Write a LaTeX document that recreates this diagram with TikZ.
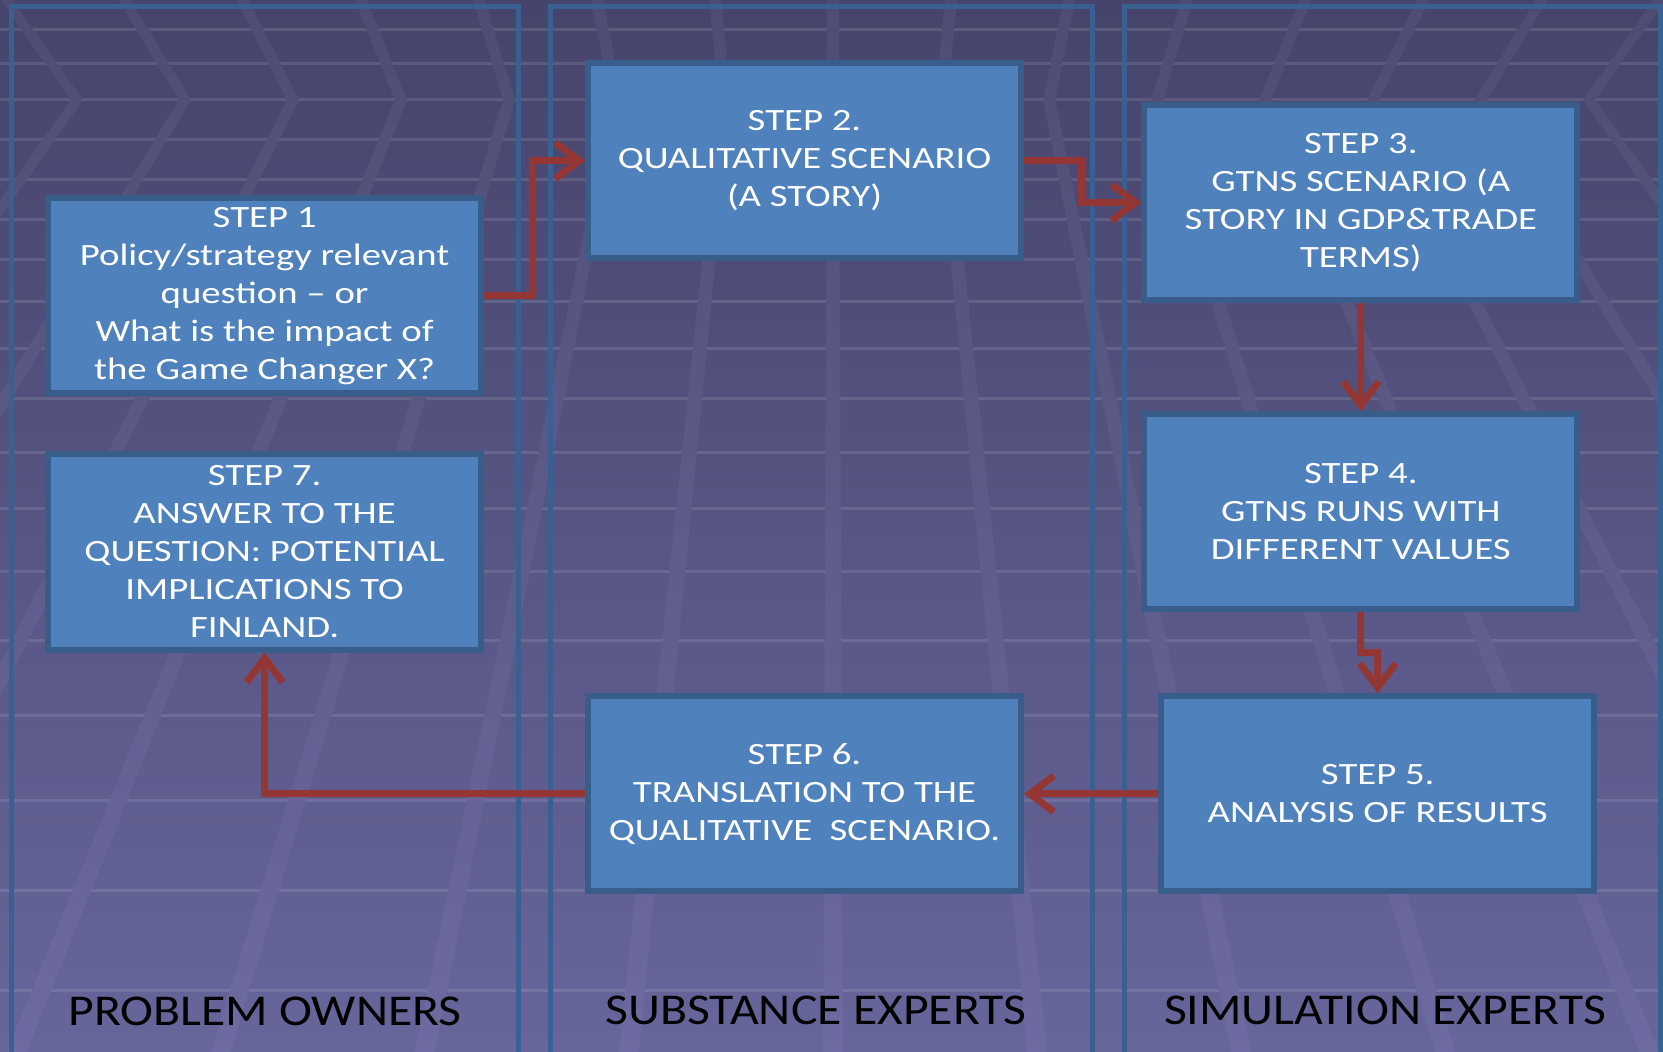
\documentclass[tikz,border=0pt]{standalone}
\usepackage{fontspec}
\setmainfont{Carlito}
\newfontfamily\boxfont[FakeStretch=1.25]{Carlito}
\newfontfamily\lanefont[FakeStretch=1.13]{Carlito}
\usetikzlibrary{arrows.meta}

\definecolor{bgtop}{HTML}{46446B}
\definecolor{bgbot}{HTML}{67669B}
\definecolor{bandtop}{HTML}{4F4C73}
\definecolor{bandmid}{HTML}{54517A}
\definecolor{bandbot}{HTML}{6D6BA1}
\definecolor{boxfill}{HTML}{4F81BD}
\definecolor{boxline}{HTML}{385D8A}
\definecolor{laneline}{HTML}{3A6091}
\definecolor{arrowred}{HTML}{943634}

\begin{document}
\begin{tikzpicture}[x=0.5pt,y=0.5pt,yscale=-1,
  stepbox/.style={draw=boxline, fill=boxfill, line width=3pt, minimum width=216.5pt, minimum height=97.5pt,
    inner sep=0pt, align=center, text=white, font=\boxfont\fontsize{15.5}{19}\selectfont},
  lanelabel/.style={inner sep=0pt, text=black, font=\lanefont\fontsize{22}{26}\selectfont},
  lane/.style={draw=laneline, line width=2.5pt},
  stripe/.style={draw=white, draw opacity=0.11, line width=1.5pt},
  flow/.style={draw=arrowred, line width=3.5pt, -{Straight Barb[length=12pt,width=18pt]}}]
\useasboundingbox (0,0) rectangle (1663,1052);

%Background
\shade[top color=bgtop, bottom color=bgbot] (0,0) rectangle (1663,1052);
\foreach \y in {30,64,100,140,180,220,260,302,349,399,453,509,572,640,715,800,890,990}
  \draw[stripe] (0,\y) -- (1663,\y);
\begin{scope}
\clip \foreach \k in {-8,...,8} {({833+118.6*\k-6},-5) -- ({833+108*\k-6},100) -- ({833+204.9*\k-10},1060)
  -- ({833+204.9*\k+10},1060) -- ({833+108*\k+6},100) -- ({833+118.6*\k+6},-5) -- cycle};
\shade[top color=bandtop, middle color=bandmid, bottom color=bandbot] (0,-5) rectangle (1663,1060);
\end{scope}

%Lanes
\draw[lane] (11,1060) -- (11,7) -- (518,7) -- (518,1060);
\draw[lane] (550,1060) -- (550,7) -- (1092,7) -- (1092,1060);
\draw[lane] (1124,1060) -- (1124,7) -- (1660,7) -- (1660,1060);

% Text Node
\node[lanelabel] (owners) at (265,1011) {PROBLEM OWNERS};
% Text Node
\node[lanelabel] (substance) at (816,1010) {SUBSTANCE EXPERTS};
% Text Node
\node[lanelabel] (simulation) at (1385,1010) {SIMULATION EXPERTS};

%Shape: Rectangle
\node[stepbox] (step1) at (264.6,296) {STEP 1\\Policy/strategy relevant\\question \textendash{} or\\What is the impact of\\the Game Changer X?};
\node[stepbox] (step2) at (804.5,160.7) {STEP 2.\\QUALITATIVE SCENARIO\\(A STORY)};
\node[stepbox] (step3) at (1360.8,202.6) {STEP 3.\\GTNS SCENARIO (A\\STORY IN GDP\&TRADE\\TERMS)};
\node[stepbox] (step4) at (1360.8,511.8) {STEP 4.\\GTNS RUNS WITH\\DIFFERENT VALUES};
\node[stepbox] (step5) at (1377.7,793.9) {STEP 5.\\ANALYSIS OF RESULTS};
\node[stepbox] (step6) at (804.5,793.9) {STEP 6.\\TRANSLATION TO THE\\QUALITATIVE~ SCENARIO.};
\node[stepbox] (step7) at (264.6,552) {STEP 7.\\ANSWER TO THE\\QUESTION: POTENTIAL\\IMPLICATIONS TO\\FINLAND.};

%Straight Lines
\draw[flow] (step1.east) -- ++(48,0) |- (step2.west);
\draw[flow] (step2.east) -- ++(57,0) |- (step3.west);
\draw[flow] (step3.south) -- (step4.north);
\draw[flow] (step4.south) -- ++(0,40) -| (step5.north);
\draw[flow] (step5.west) -- (step6.east);
\draw[flow] (step6.west) -| (step7.south);

\end{tikzpicture}
\end{document}
